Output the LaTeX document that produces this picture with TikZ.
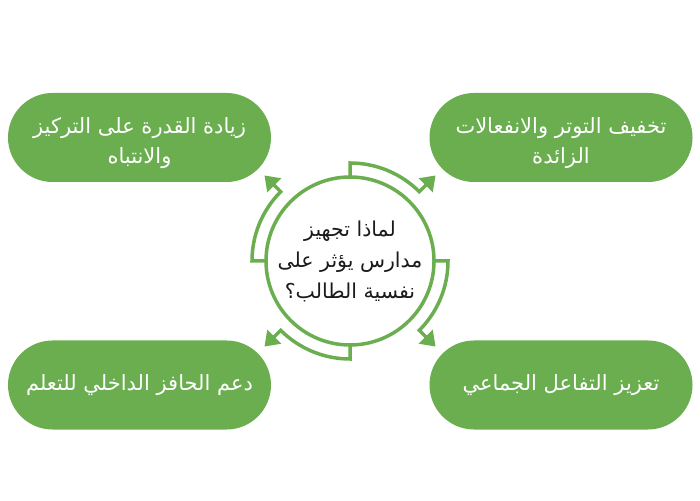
\documentclass[tikz,border=0pt]{standalone}
\usepackage{fontspec}
\usetikzlibrary{calc,arrows.meta}
\TeXXeTstate=1
\newfontfamily\arabicfont[Script=Arabic]{DejaVu Sans}
\definecolor{leaf}{HTML}{6AAE4F}
\definecolor{ink}{HTML}{1A1A1A}
\newcommand{\lowfirst}{\rule{0pt}{28pt}}
\tikzset{
  goal/.style={fill=leaf, rounded corners=44.5pt, minimum width=263pt, minimum height=89pt,
    text=white, align=center, font=\arabicfont\fontsize{21}{30}\selectfont},
  question/.style={text=ink, align=center, font=\arabicfont\fontsize{20.5}{31}\selectfont},
  ring/.style={draw=leaf, line width=3.5pt},
  band/.style={ring, -{Triangle[width=19pt,length=14pt]}},
}
\begin{document}
\begin{tikzpicture}[x=1pt,y=1pt]
				\useasboundingbox (0,0) rectangle (700,500);
				\coordinate (O) at (350,239);
				\node[goal] (focus) at (139.5,362.5) {\lowfirst\beginR زيادة القدرة على التركيز\endR\\ \beginR والانتباه\endR};
				\node[goal] (calm) at (561,362.5) {\lowfirst\beginR تخفيف التوتر والانفعالات\endR\\ \beginR الزائدة\endR};
				\node[goal] (drive) at (139.5,115) {\beginR دعم الحافز الداخلي للتعلم\endR};
				\node[goal] (group) at (561,115) {\beginR تعزيز التفاعل الجماعي\endR};
				\draw[ring] (O) circle (84pt);
				\foreach \a in {90,0,-90,180}
					\draw[band] ($(O)+(\a:84)$) -- ($(O)+(\a:98)$)
						arc[start angle=\a, end angle=\a-45, radius=98pt] -- ++(\a-45:23);
				\node[question] (why) at (O) {\beginR لماذا تجهيز\endR\\ \beginR مدارس يؤثر على\endR\\ \beginR نفسية الطالب؟\endR};
			\end{tikzpicture}
\end{document}
